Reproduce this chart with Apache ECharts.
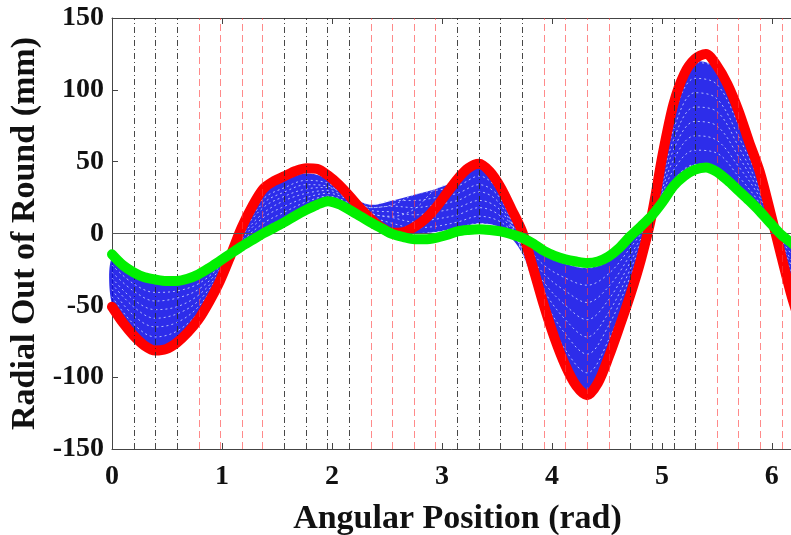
<!DOCTYPE html>
<html>
<head>
<meta charset="utf-8">
<script src="https://cdn.jsdelivr.net/npm/echarts@6/dist/echarts.min.js"></script>
<style>
  html, body { margin: 0; padding: 0; background: #ffffff; overflow: hidden; }
  #chart { width: 791px; height: 535px; }
</style>
</head>
<body>
<div id="chart"></div>
<script>
// Angular sample positions (rad), step pi/32 for the two reference profiles
const angleFine = [
  0, 0.098, 0.196, 0.295, 0.393, 0.491, 0.589, 0.687, 0.785, 0.884,
  0.982, 1.080, 1.178, 1.276, 1.374, 1.473, 1.571, 1.669, 1.767, 1.865,
  1.963, 2.062, 2.160, 2.258, 2.356, 2.454, 2.553, 2.651, 2.749, 2.847,
  2.945, 3.043, 3.142, 3.240, 3.338, 3.436, 3.534, 3.632, 3.731, 3.829,
  3.927, 4.025, 4.123, 4.221, 4.320, 4.418, 4.516, 4.614, 4.712, 4.810,
  4.909, 5.007, 5.105, 5.203, 5.301, 5.400, 5.498, 5.596, 5.694, 5.792,
  5.890, 5.989, 6.087, 6.185, 6.283
];

// Red profile (mm)
const redProfile = [
  -51, -62, -71, -78, -81.5, -80.5, -76, -69, -60, -47.5,
  -33, -15, 4, 19, 31, 36.5, 40, 43.5, 45.5, 45,
  40.5, 34, 26, 17.5, 10, 4, 0.5, 1, 4.5, 10,
  18, 28, 38, 45.5, 48.5, 43, 32, 17, 1, -24,
  -50, -73, -92, -106, -112.5, -104, -86, -65, -43, -18,
  13, 55, 90, 111, 121.5, 125, 117, 104, 86, 64,
  43, 14, -16, -45, -68
];

// Green profile (mm)
const greenProfile = [
  -14.5, -22, -27, -30.5, -32, -33, -33, -31.5, -28.5, -24,
  -19, -14, -9, -4.5, 0, 4, 8, 12.5, 16.5, 20,
  22.5, 20.5, 16.5, 12, 7.5, 3.5, -0.5, -2.5, -4, -4,
  -3, -1, 1.5, 2.5, 3, 2.5, 1.5, -0.5, -3, -7,
  -12, -15.5, -18, -19.5, -20.5, -19.5, -16, -10, -2, 5,
  12.5, 22, 33, 40, 44.5, 46, 43, 37, 30, 23,
  15.5, 7, -1, -7, -13
];

// Angular sample positions (rad), step pi/16 for the intermediate runs
const angleCoarse = [
  0, 0.196, 0.393, 0.589, 0.785, 0.982, 1.178, 1.374, 1.571, 1.767,
  1.963, 2.160, 2.356, 2.553, 2.749, 2.945, 3.142, 3.338, 3.534, 3.731,
  3.927, 4.123, 4.320, 4.516, 4.712, 4.909, 5.105, 5.301, 5.498, 5.694,
  5.890, 6.087, 6.283
];

// Intermediate runs (mm), ordered from the green side to the red side
const blue1 = [-17, -29, -34, -35, -31, -21, -8, 3, 11, 19, 24, 19, 10, 3, 0, 1, 4, 7, 4, -4, -15, -21, -24, -19, -4, 12, 37, 48, 46, 33, 18, -2, -16];
const blue2 = [-22, -35, -41, -40, -35, -23, -6, 7, 15, 22, 26, 21, 12, 7, 4, 5, 8, 12, 8, -6, -22, -31, -36, -28, -10, 11, 44, 58, 56, 40, 21, -5, -24];
const blue3 = [-27, -40, -47, -45, -39, -25, -4, 11, 19, 25, 28, 23, 14, 11, 8, 10, 13, 18, 12, -8, -28, -40, -48, -37, -15, 10, 51, 68, 65, 47, 25, -7, -31];
const blue4 = [-31, -46, -53, -51, -43, -27, -2, 14, 23, 28, 30, 24, 16, 15, 13, 15, 18, 23, 16, -10, -34, -50, -60, -46, -20, 10, 58, 78, 75, 54, 28, -8, -38];
const blue5 = [-35, -51, -59, -56, -47, -28, 0, 18, 26, 31, 32, 25, 18, 19, 18, 20, 23, 29, 20, -12, -40, -60, -72, -55, -25, 10, 65, 88, 85, 61, 31, -10, -45];
const blue6 = [-39, -57, -65, -62, -51, -29, 1, 21, 29, 34, 33, 26, 20, 23, 23, 25, 28, 34, 24, -13, -46, -70, -84, -64, -30, 11, 72, 98, 94, 68, 35, -12, -52];
const blue7 = [-44, -63, -72, -68, -55, -31, 2, 24, 32, 37, 35, 26, 18, 20, 27, 30, 33, 40, 27, -14, -52, -81, -97, -74, -36, 12, 80, 108, 104, 76, 38, -14, -59];
const blue8 = [-49, -69, -79, -74, -58, -32, 3, 28, 37, 42, 38, 25, 14, 12, 17, 31, 37, 46, 31, -10, -56, -91, -110, -84, -41, 13, 88, 119, 115, 84, 42, -16, -65];
const blueRuns = [blue1, blue2, blue3, blue4, blue5, blue6, blue7, blue8];

// Vertical guide positions (rad)
const blackGuides = [0.196, 0.393, 0.589, 1.571, 1.767, 1.963, 2.160, 3.142, 3.338, 3.534, 3.731, 4.712, 4.909, 5.105, 5.301];
const redGuides = [0.785, 0.982, 1.178, 1.374, 2.356, 2.553, 2.749, 2.945, 3.927, 4.123, 4.320, 4.516, 5.498, 5.694, 5.890, 6.087];

// Axis settings
const xTicks = [0, 1, 2, 3, 4, 5, 6];
const yTicks = [-150, -100, -50, 0, 50, 100, 150];

const FONT = 'Liberation Serif';
const AXIS_COLOR = '#444444';

function pairs(xs, ys) {
  return xs.map((x, i) => [x, ys[i]]);
}

// Envelope of the intermediate runs
const bandLow = angleCoarse.map((_, i) => Math.min(...blueRuns.map(r => r[i])));
const bandHigh = angleCoarse.map((_, i) => Math.max(...blueRuns.map(r => r[i])));

const guideData = []
  .concat(blackGuides.map(v => ({
    xAxis: v,
    lineStyle: { color: 'rgba(40,40,40,0.85)', width: 1, type: [6, 3, 1, 3] }
  })))
  .concat(redGuides.map(v => ({
    xAxis: v,
    lineStyle: { color: 'rgba(255,60,60,0.6)', width: 1, type: [7, 4] }
  })));

const series = [];

// guide lines and the zero line
series.push({
  type: 'line',
  data: [],
  silent: true,
  z: 1,
  markLine: {
    silent: true,
    symbol: ['none', 'none'],
    label: { show: false },
    animation: false,
    data: guideData.concat([{
      yAxis: 0,
      lineStyle: { color: '#555555', width: 1, type: 'solid' }
    }])
  }
});

// filled envelope of the intermediate runs
series.push({
  type: 'custom',
  coordinateSystem: 'cartesian2d',
  data: [[angleCoarse[0], bandLow[0]]],
  silent: true,
  z: 2,
  renderItem: function (params, api) {
    const upper = angleCoarse.map((x, i) => api.coord([x, bandHigh[i]]));
    const lower = angleCoarse.map((x, i) => api.coord([x, bandLow[i]])).reverse();
    return {
      type: 'polygon',
      shape: { points: upper.concat(lower), smooth: 0.3 },
      style: { fill: 'rgba(10,10,230,0.86)', stroke: null }
    };
  }
});

// intermediate runs
blueRuns.forEach(run => {
  series.push({
    type: 'line',
    data: pairs(angleCoarse, run),
    smooth: 0.35,
    symbol: 'none',
    lineStyle: { color: 'rgba(205,215,255,0.85)', width: 1, type: [2, 3] },
    silent: true,
    z: 3
  });
});

// red profile
series.push({
  type: 'line',
  data: pairs(angleFine, redProfile),
  smooth: 0.3,
  symbol: 'none',
  lineStyle: { color: '#ff0000', width: 10, cap: 'round', join: 'round' },
  silent: true,
  z: 4
});

// green profile
series.push({
  type: 'line',
  data: pairs(angleFine, greenProfile),
  smooth: 0.3,
  symbol: 'none',
  lineStyle: { color: '#00f000', width: 10, cap: 'round', join: 'round' },
  silent: true,
  z: 5
});

const labelStyle = {
  fontFamily: FONT,
  fontWeight: 'bold',
  fontSize: 28,
  color: '#111111'
};

const chart = echarts.init(document.getElementById('chart'), null, { renderer: 'canvas' });
chart.setOption({
  animation: false,
  backgroundColor: '#ffffff',
  grid: {
    left: 112, right: -12, top: 18, bottom: 86,
    containLabel: false,
    outerBoundsMode: 'none'
  },
  xAxis: [{
    type: 'value',
    position: 'bottom',
    min: 0,
    max: 6.2832,
    interval: 1,
    axisLine: { show: true, onZero: false, lineStyle: { color: AXIS_COLOR, width: 1 } },
    axisTick: { show: true, inside: true, length: 6, lineStyle: { color: AXIS_COLOR } },
    splitLine: { show: false },
    axisLabel: Object.assign({
      margin: 14,
      formatter: v => (xTicks.indexOf(v) >= 0 ? String(v) : '')
    }, labelStyle),
    name: 'Angular Position (rad)',
    nameLocation: 'middle',
    nameGap: 53,
    nameTextStyle: { fontFamily: FONT, fontWeight: 'bold', fontSize: 34, color: '#111111' }
  }, {
    type: 'value',
    position: 'top',
    min: 0,
    max: 6.2832,
    interval: 1,
    axisLine: { show: true, onZero: false, lineStyle: { color: AXIS_COLOR, width: 1 } },
    axisTick: { show: true, inside: true, length: 6, lineStyle: { color: AXIS_COLOR } },
    axisLabel: { show: false },
    splitLine: { show: false }
  }],
  yAxis: {
    type: 'value',
    min: -150,
    max: 150,
    interval: 50,
    axisLine: { show: true, onZero: false, lineStyle: { color: AXIS_COLOR, width: 1 } },
    axisTick: { show: true, inside: true, length: 6, lineStyle: { color: AXIS_COLOR } },
    splitLine: { show: false },
    axisLabel: Object.assign({
      margin: 8,
      formatter: v => (yTicks.indexOf(v) >= 0 ? String(v) : '')
    }, labelStyle),
    name: 'Radial Out of Round (mm)',
    nameLocation: 'middle',
    nameGap: 64,
    nameTextStyle: { fontFamily: FONT, fontWeight: 'bold', fontSize: 34, color: '#111111' }
  },
  series: series
});
</script>
</body>
</html>
